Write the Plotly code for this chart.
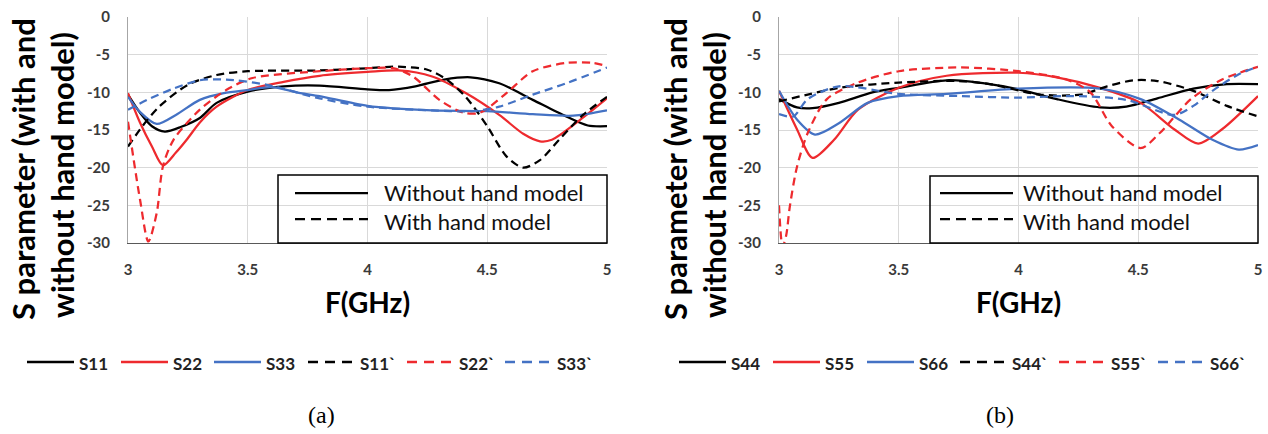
import plotly.graph_objects as go

W, H = 1268, 434

# ---------------- data ----------------
# panel (a)
s11_f = [3.0, 3.05, 3.1, 3.154, 3.22, 3.3, 3.37, 3.5, 3.65, 3.8, 4.0, 4.09, 4.2, 4.32, 4.43, 4.55, 4.69, 4.83, 4.92, 5.0]
s11_v = [-10.3, -12.7, -14.5, -15.2, -14.6, -13.4, -11.4, -9.9, -9.2, -9.1, -9.6, -9.7, -9.2, -8.3, -8.0, -8.8, -11.0, -13.2, -14.4, -14.5]

s22_f = [3.0, 3.05, 3.1, 3.146, 3.2, 3.245, 3.3, 3.37, 3.5, 3.65, 3.8, 4.0, 4.13, 4.27, 4.41, 4.55, 4.65, 4.72, 4.77, 4.89, 5.0]
s22_v = [-10.1, -14.0, -17.2, -19.7, -18.0, -16.3, -14.0, -11.9, -9.7, -8.6, -7.8, -7.3, -7.1, -7.9, -10.1, -13.0, -15.5, -16.5, -16.3, -13.6, -10.8]

s33_f = [3.0, 3.05, 3.12, 3.2, 3.3, 3.4, 3.5, 3.6, 3.72, 3.8, 4.0, 4.27, 4.5, 4.69, 4.86, 5.0]
s33_v = [-10.6, -12.6, -14.2, -13.0, -11.0, -10.1, -9.7, -9.3, -10.1, -10.5, -11.8, -12.4, -12.5, -12.9, -13.1, -12.4]

s11d_f = [3.0, 3.06, 3.13, 3.25, 3.37, 3.5, 3.8, 4.0, 4.13, 4.25, 4.33, 4.41, 4.5, 4.58, 4.65, 4.72, 4.8, 4.9, 5.0]
s11d_v = [-17.2, -14.5, -11.9, -9.0, -7.7, -7.2, -7.1, -6.8, -6.6, -7.0, -8.3, -10.6, -14.5, -18.5, -20.0, -19.0, -16.3, -13.0, -10.6]

s22d_f = [3.0, 3.05, 3.085, 3.12, 3.146, 3.19, 3.3, 3.41, 3.52, 3.8, 4.0, 4.11, 4.19, 4.3, 4.4, 4.47, 4.58, 4.69, 4.83, 4.94, 5.0]
s22d_v = [-13.9, -24.2, -29.8, -26.0, -19.8, -16.3, -12.3, -9.7, -8.1, -7.2, -6.8, -6.8, -7.9, -11.0, -12.7, -12.7, -10.1, -7.2, -6.1, -6.1, -6.5]

s33d_f = [3.0, 3.08, 3.19, 3.3, 3.41, 3.58, 3.8, 4.0, 4.27, 4.44, 4.55, 4.69, 4.83, 5.0]
s33d_v = [-12.3, -11.0, -9.5, -8.4, -8.3, -9.0, -10.8, -11.9, -12.4, -12.5, -11.9, -10.3, -8.8, -6.7]

# panel (b)
s44_f = [3.0, 3.075, 3.14, 3.25, 3.39, 3.5, 3.7, 3.88, 4.0, 4.16, 4.34, 4.45, 4.58, 4.73, 4.87, 5.0]
s44_v = [-10.9, -12.0, -12.1, -11.4, -10.0, -9.4, -8.4, -8.9, -9.6, -10.9, -12.0, -11.9, -10.8, -9.5, -8.9, -8.9]

s55_f = [3.0, 3.075, 3.14, 3.23, 3.33, 3.5, 3.7, 4.0, 4.16, 4.34, 4.51, 4.65, 4.75, 4.85, 5.0]
s55_v = [-9.8, -14.9, -18.7, -16.3, -12.3, -9.4, -7.8, -7.4, -8.0, -9.4, -11.4, -14.9, -16.8, -14.9, -10.5]

s66_f = [3.0, 3.075, 3.15, 3.25, 3.37, 3.5, 3.7, 4.0, 4.34, 4.51, 4.67, 4.81, 4.92, 5.0]
s66_v = [-9.8, -13.6, -15.6, -14.1, -11.4, -10.5, -10.2, -9.5, -9.5, -10.9, -13.6, -16.3, -17.6, -17.0]

s44d_f = [3.0, 3.12, 3.25, 3.5, 3.75, 3.88, 4.09, 4.26, 4.37, 4.48, 4.58, 4.73, 4.87, 5.0]
s44d_v = [-11.2, -10.3, -9.4, -8.7, -8.5, -8.9, -10.3, -10.3, -9.2, -8.4, -8.5, -9.8, -11.8, -13.2]

s55d_f = [3.0, 3.015, 3.03, 3.045, 3.075, 3.12, 3.2, 3.33, 3.5, 3.76, 4.0, 4.2, 4.3, 4.39, 4.51, 4.59, 4.72, 4.85, 5.0]
s55d_v = [-25.0, -30.5, -29.0, -25.2, -19.9, -15.4, -10.9, -8.7, -7.2, -6.7, -7.2, -8.3, -10.0, -14.5, -17.4, -15.4, -10.9, -8.3, -6.6]

s66d_f = [3.0, 3.06, 3.12, 3.25, 3.5, 3.76, 4.0, 4.23, 4.45, 4.65, 4.73, 4.81, 4.92, 5.0]
s66d_v = [-12.9, -13.2, -10.9, -9.2, -10.2, -10.5, -10.7, -10.5, -11.0, -13.0, -11.8, -9.8, -7.6, -6.6]

x_ticks = [3, 3.5, 4, 4.5, 5]
x_ticklabels = ["3", "3.5", "4", "4.5", "5"]
y_ticks = [0, -5, -10, -15, -20, -25, -30]
y_ticklabels = ["0", "-5", "-10", "-15", "-20", "-25", "-30"]

names_a = ["S11", "S22", "S33", "S11`", "S22`", "S33`"]
names_b = ["S44", "S55", "S66", "S44`", "S55`", "S66`"]
freqs_a = [s11_f, s22_f, s33_f, s11d_f, s22d_f, s33d_f]
vals_a = [s11_v, s22_v, s33_v, s11d_v, s22d_v, s33d_v]
freqs_b = [s44_f, s55_f, s66_f, s44d_f, s55d_f, s66d_f]
vals_b = [s44_v, s55_v, s66_v, s44d_v, s55d_v, s66d_v]

box_labels = ["Without hand model", "With hand model"]
panel_labels = ["(a)", "(b)"]
y_title_lines = ["S parameter (with and", "without hand model)"]
x_title = "F(GHz)"

# ---------------- styles ----------------
BLACK, RED, BLUE = "#000000", "#ee2a2e", "#4472c4"
colors = [BLACK, RED, BLUE, BLACK, RED, BLUE]
dashes = ["solid", "solid", "solid", "8px,5px", "8px,5px", "8px,5px"]
FONT = "Lato"


def px(x):
    return x / W


def py(y):
    return 1 - y / H


fig = go.Figure()
for names, freqs, vals, xa, ya in [(names_a, freqs_a, vals_a, "x", "y"),
                                   (names_b, freqs_b, vals_b, "x2", "y2")]:
    for n, f, v, c, d in zip(names, freqs, vals, colors, dashes):
        fig.add_trace(go.Scatter(
            x=f, y=v, name=n, mode="lines", showlegend=False,
            line=dict(color=c, width=2.25, dash=d, shape="spline", smoothing=0.8),
            xaxis=xa, yaxis=ya, hoverinfo="skip"))

tickfont = dict(family=FONT, size=15, color="#3a3a3a", weight="bold")


def xaxis(dom, anchor):
    return dict(domain=dom, anchor=anchor, range=[3, 5], tickvals=x_ticks, ticktext=x_ticklabels,
                showgrid=True, gridcolor="#d9d9d9", gridwidth=1, zeroline=False, automargin=False,
                showline=True, linecolor="#595959", linewidth=1,
                ticks="outside", ticklen=13, tickcolor="rgba(0,0,0,0)", tickfont=tickfont,
                fixedrange=True)


def yaxis(dom, anchor):
    return dict(domain=dom, anchor=anchor, range=[-30, 0], tickvals=y_ticks, ticktext=y_ticklabels,
                showgrid=True, gridcolor="#d9d9d9", gridwidth=1, zeroline=False, automargin=False,
                showline=True, linecolor="#a6a6a6", linewidth=1,
                ticks="outside", ticklen=14, tickcolor="rgba(0,0,0,0)", tickfont=tickfont,
                fixedrange=True)


ydom = [py(243), py(17)]
panels = [dict(left=128, right=607, box=(278, 175, 607, 243), line=(295, 368), text=382, title=(23, 62), lab=322,
               leg=[27, 121, 214, 308, 407, 505]),
          dict(left=779, right=1258, box=(930, 176, 1258, 243), line=(940, 1013), text=1021, title=(675, 714), lab=1000,
               leg=[679, 773, 867, 960, 1059, 1158])]

fig.update_layout(
    width=W, height=H, autosize=False, margin=dict(l=0, r=0, t=0, b=0),
    paper_bgcolor="white", plot_bgcolor="white", showlegend=False,
    xaxis=xaxis([px(128), px(607)], "y"), yaxis=yaxis(ydom, "x"),
    xaxis2=xaxis([px(779), px(1258)], "y2"), yaxis2=yaxis(ydom, "x2"),
)

shapes, annots = [], []
for k, (p, names) in enumerate(zip(panels, [names_a, names_b])):
    # boxed legend
    x0, y0, x1, y1 = p["box"]
    shapes.append(dict(type="rect", xref="paper", yref="paper", x0=px(x0), x1=px(x1), y0=py(y1), y1=py(y0),
                       line=dict(color="#000000", width=1.5), fillcolor="rgba(0,0,0,0)", layer="above"))
    for j, yy in enumerate([193, 219]):
        shapes.append(dict(type="line", xref="paper", yref="paper", x0=px(p["line"][0]), x1=px(p["line"][1]),
                           y0=py(yy), y1=py(yy),
                           line=dict(color="#000000", width=2.25, dash="solid" if j == 0 else "10px,6px")))
    annots.append(dict(text="<br>".join(box_labels), xref="paper", yref="paper", x=px(p["text"]), y=py(207),
                       xanchor="left", yanchor="middle", align="left", showarrow=False,
                       font=dict(family=FONT, size=22, color="#111111")))
    # axis titles
    for j, t in enumerate(y_title_lines):
        annots.append(dict(text=t, xref="paper", yref="paper", x=px(p["title"][j]), y=py(169 + 6 * j),
                           xanchor="center", yanchor="middle", showarrow=False, textangle=-90,
                           font=dict(family=FONT, size=31, color="#000000", weight="bold")))
    annots.append(dict(text=x_title, xref="paper", yref="paper", x=px((p["left"] + p["right"]) / 2), y=py(302),
                       xanchor="center", yanchor="middle", showarrow=False,
                       font=dict(family=FONT, size=28, color="#000000", weight="bold")))
    annots.append(dict(text=panel_labels[k], xref="paper", yref="paper", x=px(p["lab"]), y=py(415),
                       xanchor="center", yanchor="middle", showarrow=False,
                       font=dict(family="Liberation Serif", size=24, color="#000000")))
    # bottom legend
    for xs, n, c, d in zip(p["leg"], names, colors, dashes):
        shapes.append(dict(type="line", xref="paper", yref="paper", x0=px(xs), x1=px(xs + 47),
                           y0=py(362), y1=py(362),
                           line=dict(color=c, width=2.5, dash="solid" if d == "solid" else "10px,7px")))
        annots.append(dict(text=n, xref="paper", yref="paper", x=px(xs + 50), y=py(363),
                           xanchor="left", yanchor="middle", showarrow=False,
                           font=dict(family=FONT, size=17, color="#222222", weight="bold")))

fig.update_layout(shapes=shapes, annotations=annots)
fig.write_html("out.html", include_plotlyjs=True, config={"displayModeBar": False},
               post_script="document.body.style.margin='0px';document.body.style.padding='0px';")
